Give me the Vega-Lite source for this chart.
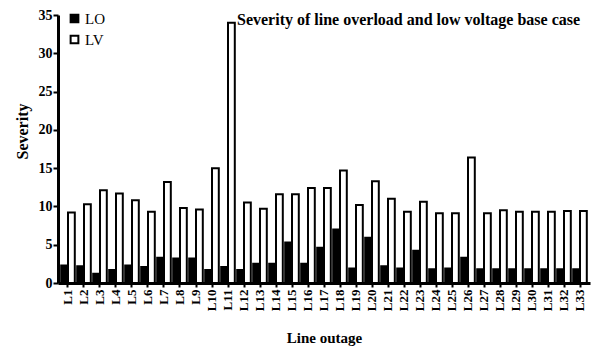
{
  "$schema": "https://vega.github.io/schema/vega-lite/v6.json",
  "width": 532,
  "height": 268,
  "autosize": "none",
  "padding": {"left": 58, "top": 15, "right": 2, "bottom": 64},
  "background": "white",
  "title": {
    "text": "Severity of line overload and low voltage base case",
    "anchor": "start",
    "frame": "group",
    "dx": 179,
    "dy": 20,
    "font": "Liberation Serif, Times New Roman, serif",
    "fontSize": 16,
    "fontWeight": "bold",
    "color": "black",
    "offset": 0
  },
  "data": {
    "values": [
      {"line": "L1", "series": "LO", "severity": 2.3}, {"line": "L1", "series": "LV", "severity": 9.2},
      {"line": "L2", "series": "LO", "severity": 2.2}, {"line": "L2", "series": "LV", "severity": 10.3},
      {"line": "L3", "series": "LO", "severity": 1.2}, {"line": "L3", "series": "LV", "severity": 12.1},
      {"line": "L4", "series": "LO", "severity": 1.7}, {"line": "L4", "series": "LV", "severity": 11.7},
      {"line": "L5", "series": "LO", "severity": 2.3}, {"line": "L5", "series": "LV", "severity": 10.8},
      {"line": "L6", "series": "LO", "severity": 2.1}, {"line": "L6", "series": "LV", "severity": 9.3},
      {"line": "L7", "series": "LO", "severity": 3.3}, {"line": "L7", "series": "LV", "severity": 13.2},
      {"line": "L8", "series": "LO", "severity": 3.2}, {"line": "L8", "series": "LV", "severity": 9.8},
      {"line": "L9", "series": "LO", "severity": 3.2}, {"line": "L9", "series": "LV", "severity": 9.6},
      {"line": "L10", "series": "LO", "severity": 1.7}, {"line": "L10", "series": "LV", "severity": 15.0},
      {"line": "L11", "series": "LO", "severity": 2.1}, {"line": "L11", "series": "LV", "severity": 34.0},
      {"line": "L12", "series": "LO", "severity": 1.7}, {"line": "L12", "series": "LV", "severity": 10.5},
      {"line": "L13", "series": "LO", "severity": 2.5}, {"line": "L13", "series": "LV", "severity": 9.7},
      {"line": "L14", "series": "LO", "severity": 2.5}, {"line": "L14", "series": "LV", "severity": 11.6},
      {"line": "L15", "series": "LO", "severity": 5.3}, {"line": "L15", "series": "LV", "severity": 11.6},
      {"line": "L16", "series": "LO", "severity": 2.5}, {"line": "L16", "series": "LV", "severity": 12.4},
      {"line": "L17", "series": "LO", "severity": 4.6}, {"line": "L17", "series": "LV", "severity": 12.4},
      {"line": "L18", "series": "LO", "severity": 7.0}, {"line": "L18", "series": "LV", "severity": 14.7},
      {"line": "L19", "series": "LO", "severity": 1.9}, {"line": "L19", "series": "LV", "severity": 10.2},
      {"line": "L20", "series": "LO", "severity": 5.9}, {"line": "L20", "series": "LV", "severity": 13.3},
      {"line": "L21", "series": "LO", "severity": 2.2}, {"line": "L21", "series": "LV", "severity": 11.0},
      {"line": "L22", "series": "LO", "severity": 1.9}, {"line": "L22", "series": "LV", "severity": 9.3},
      {"line": "L23", "series": "LO", "severity": 4.2}, {"line": "L23", "series": "LV", "severity": 10.6},
      {"line": "L24", "series": "LO", "severity": 1.8}, {"line": "L24", "series": "LV", "severity": 9.1},
      {"line": "L25", "series": "LO", "severity": 1.9}, {"line": "L25", "series": "LV", "severity": 9.1},
      {"line": "L26", "series": "LO", "severity": 3.3}, {"line": "L26", "series": "LV", "severity": 16.4},
      {"line": "L27", "series": "LO", "severity": 1.8}, {"line": "L27", "series": "LV", "severity": 9.1},
      {"line": "L28", "series": "LO", "severity": 1.8}, {"line": "L28", "series": "LV", "severity": 9.5},
      {"line": "L29", "series": "LO", "severity": 1.8}, {"line": "L29", "series": "LV", "severity": 9.3},
      {"line": "L30", "series": "LO", "severity": 1.8}, {"line": "L30", "series": "LV", "severity": 9.3},
      {"line": "L31", "series": "LO", "severity": 1.8}, {"line": "L31", "series": "LV", "severity": 9.3},
      {"line": "L32", "series": "LO", "severity": 1.8}, {"line": "L32", "series": "LV", "severity": 9.4},
      {"line": "L33", "series": "LO", "severity": 1.8}, {"line": "L33", "series": "LV", "severity": 9.4}
    ]
  },
  "mark": {"type": "bar", "stroke": "black", "strokeWidth": 2},
  "encoding": {
    "x": {
      "field": "line",
      "type": "nominal",
      "sort": null,
      "scale": {"paddingInner": 0.15, "paddingOuter": 0.2},
      "axis": {
        "title": "Line outage",
        "titleFont": "Liberation Serif, Times New Roman, serif",
        "titleFontSize": 15,
        "titleFontWeight": "bold",
        "titleColor": "black",
        "titlePadding": 20,
        "labelFont": "Liberation Serif, Times New Roman, serif",
        "labelFontSize": 13,
        "labelFontWeight": "bold",
        "labelColor": "black",
        "labelAngle": 270,
        "labelPadding": 2,
        "domainColor": "black",
        "domainWidth": 3,
        "tickColor": "black",
        "tickWidth": 2,
        "tickSize": 4,
        "grid": false
      }
    },
    "xOffset": {"field": "series", "type": "nominal", "scale": {"paddingInner": 0, "paddingOuter": 0}},
    "y": {
      "field": "severity",
      "type": "quantitative",
      "scale": {"domain": [0, 35], "nice": false},
      "axis": {
        "title": "Severity",
        "titleFont": "Liberation Serif, Times New Roman, serif",
        "titleFontSize": 16,
        "titleFontWeight": "bold",
        "titleColor": "black",
        "titlePadding": 8,
        "titleY": 116,
        "labelFont": "Liberation Serif, Times New Roman, serif",
        "labelFontSize": 14,
        "labelFontWeight": "bold",
        "labelColor": "black",
        "labelPadding": 1,
        "values": [0, 5, 10, 15, 20, 25, 30, 35],
        "domainColor": "black",
        "domainWidth": 3,
        "tickColor": "black",
        "tickWidth": 2,
        "tickSize": 5,
        "grid": false
      }
    },
    "fill": {
      "field": "series",
      "type": "nominal",
      "scale": {"domain": ["LO", "LV"], "range": ["black", "white"]},
      "legend": {
        "title": null,
        "orient": "none",
        "legendX": 9,
        "legendY": -4,
        "symbolType": "square",
        "symbolSize": 60,
        "symbolStrokeColor": "black",
        "symbolStrokeWidth": 2,
        "labelFont": "Liberation Serif, Times New Roman, serif",
        "labelFontSize": 15,
        "labelColor": "black",
        "labelOffset": 3,
        "rowPadding": 4
      }
    }
  },
  "config": {"view": {"stroke": null}}
}
